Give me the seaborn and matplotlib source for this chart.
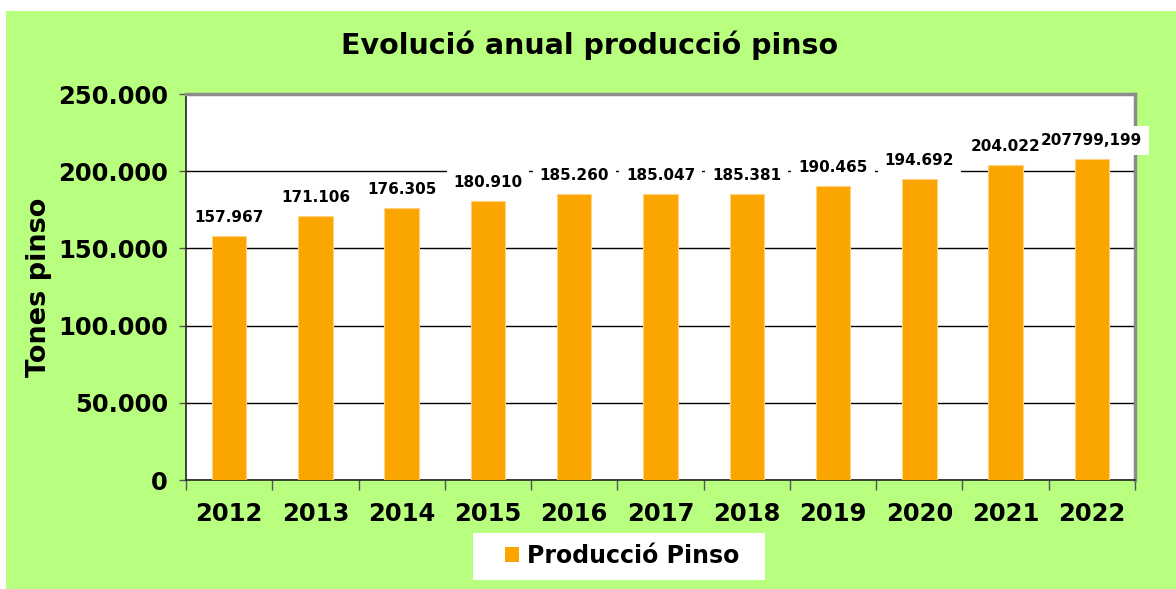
import matplotlib
matplotlib.use("Agg")
import matplotlib.pyplot as plt
import matplotlib.patches as mpatches
from matplotlib.ticker import FuncFormatter, FixedLocator
import pandas as pd
import seaborn as sns

# data
years = ["2012", "2013", "2014", "2015", "2016", "2017", "2018", "2019", "2020", "2021", "2022"]
tones = [157967, 171106, 176305, 180910, 185260, 185047, 185381, 190465, 194692, 204022, 207799.199]
bar_labels = ["157.967", "171.106", "176.305", "180.910", "185.260", "185.047",
              "185.381", "190.465", "194.692", "204.022", "207799,199"]
y_ticks = [0, 50000, 100000, 150000, 200000, 250000]

df = pd.DataFrame({"Any": years, "Tones": tones})

sns.set_style("white")
plt.rcParams["font.family"] = ["DejaVu Sans"]
plt.rcParams["font.weight"] = "bold"
plt.rcParams["text.color"] = "black"
plt.rcParams["xtick.color"] = "black"
plt.rcParams["ytick.color"] = "black"
plt.rcParams["axes.labelcolor"] = "black"

green = "#B8FF80"
orange = "#FBA500"

fig = plt.figure(figsize=(11.76, 5.89), dpi=100, facecolor="white")
# green chart area with a thin white margin at left and top
fig.patches.append(mpatches.Rectangle((6 / 1176, 0), 1 - 6 / 1176, 1 - 11 / 589,
                                      transform=fig.transFigure, facecolor=green,
                                      edgecolor="none", zorder=-5))
# white legend box
fig.patches.append(mpatches.Rectangle((473 / 1176, 1 - 580 / 589), 292 / 1176, 47 / 589,
                                      transform=fig.transFigure, facecolor="white",
                                      edgecolor="none", zorder=-4))

ax = fig.add_axes([186 / 1176, 1 - 480 / 589, (1135 - 186) / 1176, (480 - 94) / 589])
ax.set_zorder(2)
ax.set_facecolor("white")

sns.barplot(data=df, x="Any", y="Tones", color=orange, width=0.4, ax=ax,
            saturation=1, zorder=3, edgecolor="#FFD27F", linewidth=0.8)

ax.set_ylim(0, 250000)
ax.set_xlim(-0.5, len(years) - 0.5)
ax.set_yticks(y_ticks)
ax.yaxis.set_major_formatter(FuncFormatter(lambda v, p: f"{int(v):,}".replace(",", ".")))
ax.grid(axis="y", color="black", linewidth=1, zorder=1)
ax.grid(axis="x", visible=False)

ax.tick_params(axis="y", which="major", length=5, width=1, color="#555555",
               labelsize=17.5, pad=8, left=True)
ax.tick_params(axis="x", which="major", length=0, labelsize=17.5, pad=16)
ax.xaxis.set_minor_locator(FixedLocator([i - 0.5 for i in range(len(years) + 1)]))
ax.tick_params(axis="x", which="minor", length=7, width=1, color="#555555", bottom=True)
for lab in ax.get_xticklabels() + ax.get_yticklabels():
    lab.set_fontweight("bold")

ax.set_xlabel("")
ax.set_ylabel("Tones pinso", fontsize=19.5, fontweight="bold", labelpad=4)

for side in ["left", "bottom"]:
    ax.spines[side].set_color("#222222")
    ax.spines[side].set_linewidth(1.2)
for side in ["top", "right"]:
    ax.spines[side].set_color("#8C8C8C")
    ax.spines[side].set_linewidth(2.5)

# data labels: white boxes first, then the text on top so no label gets clipped
for i, (v, txt) in enumerate(zip(tones, bar_labels)):
    ax.annotate(txt, xy=(i, v), xytext=(0, 8), textcoords="offset points",
                ha="center", va="bottom", fontsize=11, fontweight="bold", color="white",
                bbox=dict(boxstyle="square,pad=0.45", facecolor="white", edgecolor="none"),
                zorder=5, annotation_clip=False)
    ax.annotate(txt, xy=(i, v), xytext=(0, 8), textcoords="offset points",
                ha="center", va="bottom", fontsize=11, fontweight="bold", color="black",
                zorder=6, annotation_clip=False)

fig.text(590 / 1176, 1 - 45 / 589, "Evolució anual producció pinso",
         ha="center", va="center", fontsize=20.5, fontweight="bold")

handle = mpatches.Patch(facecolor=orange, edgecolor="none", label="Producció Pinso")
leg = fig.legend(handles=[handle], loc="center", bbox_to_anchor=(622 / 1176, 1 - 556 / 589),
                 frameon=False, prop={"size": 17, "weight": "bold"},
                 handlelength=0.6, handleheight=0.6, handletextpad=0.35,
                 borderpad=0.3, borderaxespad=0)

fig.savefig("out.png", dpi=100, facecolor=fig.get_facecolor())
